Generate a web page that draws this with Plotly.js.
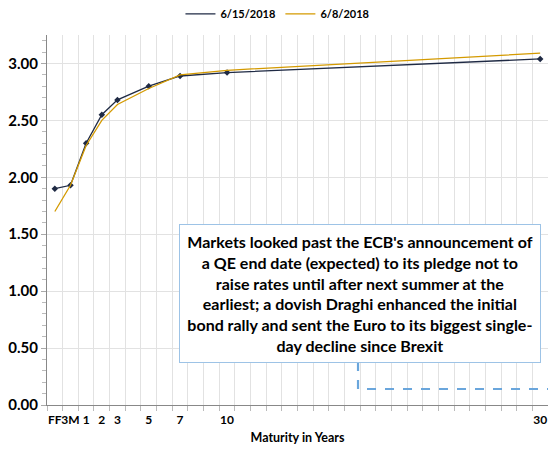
<!DOCTYPE html>
<html>
<head>
<meta charset="utf-8">
<script src="https://cdn.plot.ly/plotly-3.0.1.min.js"></script>
<style>html,body{margin:0;padding:0;background:#fff;}#chart{width:548px;height:449px;}</style>
</head>
<body>
<div id="chart"></div>
<script>
// Maturity labels and their slot on the axis (Excel-style spaced maturities)
const maturities = ["FF", "3M", "1", "2", "3", "5", "7", "10", "30"];
const maturitySlot = [0, 1, 2, 3, 4, 6, 8, 11, 31];
const series1Name = "6/15/2018";
const series1 = [1.90, 1.93, 2.30, 2.55, 2.68, 2.80, 2.89, 2.92, 3.04];
const series2Name = "6/8/2018";
const series2 = [1.70, 1.93, 2.28, 2.50, 2.64, 2.78, 2.90, 2.94, 3.09];
const yTicks = [0, 0.5, 1.0, 1.5, 2.0, 2.5, 3.0];
const noteText = "Markets looked past the ECB's announcement of<br>a QE end date (expected) to its pledge not to<br>raise rates until after next summer at the<br>earliest; a dovish Draghi enhanced the initial<br>bond rally and sent the Euro to its biggest single-<br>day decline since Brexit";

const FONT = "Lato, 'Open Sans', sans-serif";
const C1 = "#1f2a44", C2 = "#d49a00";

const traces = [
  {
    x: maturitySlot, y: series1, name: series1Name, type: "scatter", mode: "lines+markers",
    line: {color: C1, width: 1.3},
    marker: {symbol: "diamond", size: 5, color: C1},
    showlegend: false
  },
  {
    x: maturitySlot, y: series2, name: series2Name, type: "scatter", mode: "lines",
    line: {color: C2, width: 1.3},
    showlegend: false
  },
  // legend entries (line only, as in the reference)
  {x: [null], y: [null], name: series1Name, type: "scatter", mode: "lines", line: {color: C1, width: 1.3}},
  {x: [null], y: [null], name: series2Name, type: "scatter", mode: "lines", line: {color: C2, width: 1.3}}
];

const layout = {
  width: 548, height: 449,
  margin: {l: 47, r: 0, t: 35, b: 44, autoexpand: false},
  paper_bgcolor: "#fff", plot_bgcolor: "#fff",
  font: {family: FONT, color: "#000"},
  showlegend: true,
  legend: {
    orientation: "h", x: 0.46, xanchor: "center", y: 1.057, yanchor: "middle",
    font: {family: FONT, size: 11, color: "#000", weight: "bold"},
    itemwidth: 30, traceorder: "normal", tracegroupgap: 0
  },
  xaxis: {
    range: [-0.5, 31.5],
    tickmode: "array", tickvals: maturitySlot, ticktext: maturities,
    tickangle: 0,
    ticks: "", showgrid: false, zeroline: false,
    showline: true, linecolor: "#888", linewidth: 1,
    tickfont: {family: FONT, size: 12, color: "#000", weight: "bold"},
    ticklabelstandoff: 4,
    minor: {tickmode: "linear", tick0: -0.5, dtick: 1, showgrid: true, gridcolor: "#e2e2e2", gridwidth: 1, ticks: "outside", ticklen: 5, tickcolor: "#bbb"},
    title: {text: "Maturity in Years", font: {family: FONT, size: 12.5, color: "#000", weight: "bold"}, standoff: 6},
    fixedrange: true
  },
  yaxis: {
    range: [0, 3.25],
    tickmode: "array", tickvals: yTicks, ticktext: yTicks.map(v => v.toFixed(2)),
    ticks: "outside", ticklen: 5, tickcolor: "#aaa",
    showgrid: true, gridcolor: "#e2e2e2", zeroline: false,
    showline: true, linecolor: "#888", linewidth: 1,
    tickfont: {family: FONT, size: 15, color: "#000", weight: "bold"},
    minor: {tickmode: "linear", tick0: 0, dtick: 0.1, ticks: "outside", ticklen: 4, tickcolor: "#bbb", showgrid: false},
    fixedrange: true
  },
  shapes: [
    {
      type: "path", xref: "paper", yref: "paper",
      path: "M 0.6208 0.1162 L 0.6208 0.0432 L 1.0 0.0432",
      line: {color: "#6aa6dc", width: 2.2, dash: "dash"}
    }
  ],
  annotations: [
    {
      xref: "paper", yref: "paper", x: 0.6257, y: 0.3027, xanchor: "center", yanchor: "middle",
      text: noteText, showarrow: false, align: "center",
      font: {family: FONT, size: 16, color: "#000", weight: "bold"},
      bgcolor: "#fff", bordercolor: "#9dc3e6", borderwidth: 1, borderpad: 3,
      width: 354, height: 131
    }
  ]
};

Plotly.newPlot("chart", traces, layout, {displayModeBar: false, staticPlot: true});
</script>
</body>
</html>
